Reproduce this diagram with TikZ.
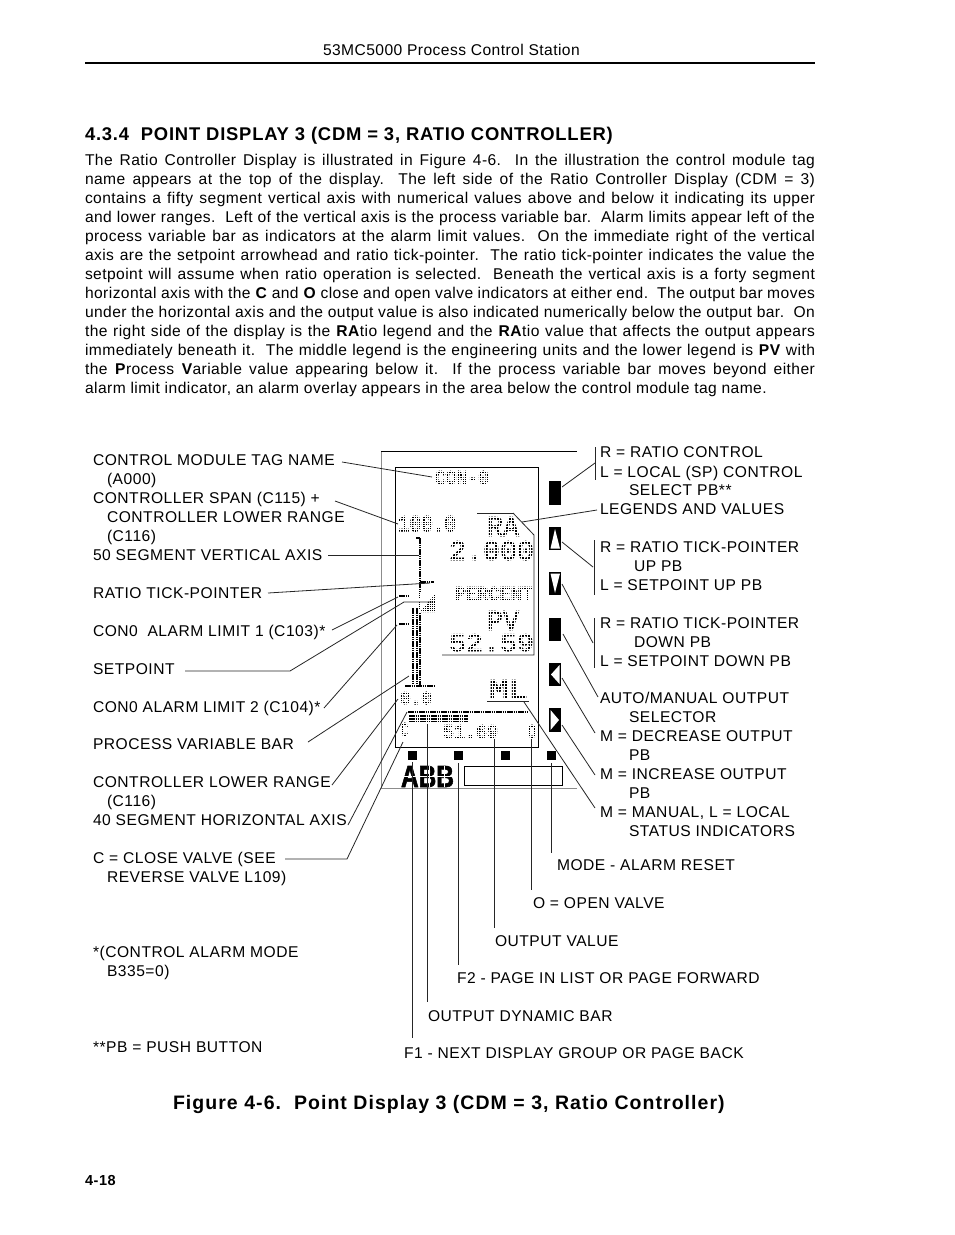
\documentclass[tikz,border=0pt]{standalone}
\usepackage{fontspec}
\usepackage{graphicx}
\setmainfont{Liberation Sans}
\newfontfamily\lcdf[FakeBold=2.2]{Liberation Mono}
\newfontfamily\lcdsf[FakeBold=6]{Liberation Mono}
\newfontfamily\abbf[FakeBold=2]{Liberation Sans Bold}
\newcommand{\tf}{\fontsize{15.6}{19}\selectfont\addfontfeature{LetterSpace=3.3}}
\newcommand{\bodyf}{\fontsize{15.6}{19}\selectfont\addfontfeature{LetterSpace=2.8}}
\tikzset{
 lbl/.style={anchor=base west,inner sep=0pt,outer sep=0pt,font=\tf},
 wire/.style={line width=0.8pt,black!85},
 lcdbox/.style={line width=1.1pt,black},
 dots/.style={line width=1.5pt,dash pattern=on 1.5pt off 0.7pt,black},
}
\newcommand{\lab}[4]{\node[lbl] (#1) at (#2,#3+5) {#4};}
\newcommand{\jl}[3]{\node[lbl,font=\bodyf] (#1) at (85,#2+5) {\makebox[730pt][s]{#3}};}
\newcommand{\wirep}[3]{\coordinate (#1a) at (#2); \coordinate (#1b) at (#3); \draw[wire] (#1a) -- (#1b);}
\newcommand{\lcdpitch}{2}
\newcommand{\lcdgap}{0.5}
\newcommand{\lcdfont}{\lcdsf}
\newcommand{\lcd}[6]{%
 \node[inner sep=0pt,outer sep=0pt,anchor=north west,font=\lcdfont,text=black] (#1) at (#2,#3)
  {\resizebox{\dimexpr#4pt-#2pt\relax}{\dimexpr#5pt-#3pt\relax}{#6}};
 \begin{scope}
 \clip (#2-1,#3-1) rectangle (#4+1,#5+1);
 \foreach \gi in {0,...,45} {
  \draw[white,line width=\lcdgap pt] (#2+.5+\gi*\lcdpitch,#3-1) -- (#2+.5+\gi*\lcdpitch,#5+1);
  \draw[white,line width=\lcdgap pt] (#2-1,#3+.5+\gi*\lcdpitch) -- (#4+1,#3+.5+\gi*\lcdpitch);
 }
 \end{scope}}
\begin{document}
\begin{tikzpicture}[x=1pt,y=-1pt]
\useasboundingbox[fill=white] (0,0) rectangle (954,1235);
% header
\node[lbl,font=\bodyf] (hdr) at (323,55) {53MC5000 Process Control Station};
\coordinate (ruleL) at (85,63); \coordinate (ruleR) at (815,63);
\draw[line width=2.4pt] (ruleL) -- (ruleR);
\node[lbl,font=\fontsize{18.4}{20}\selectfont\bfseries\addfontfeature{LetterSpace=4.3}] (sec) at (85,140) {4.3.4\ \ POINT DISPLAY 3 (CDM = 3, RATIO CONTROLLER)};
\jl{p1}{160}{The Ratio Controller Display is illustrated in Figure 4-6.\ \ In the illustration the control module tag}
\jl{p2}{179}{name appears at the top of the display.\ \ The left side of the Ratio Controller Display (CDM = 3)}
\jl{p3}{198}{contains a fifty segment vertical axis with numerical values above and below it indicating its upper}
\jl{p4}{217}{and lower ranges.\ \ Left of the vertical axis is the process variable bar.\ \ Alarm limits appear left of the}
\jl{p5}{236}{process variable bar as indicators at the alarm limit values.\ \ On the immediate right of the vertical}
\jl{p6}{255}{axis are the setpoint arrowhead and ratio tick-pointer.\ \ The ratio tick-pointer indicates the value the}
\jl{p7}{274}{setpoint will assume when ratio operation is selected.\ \ Beneath the vertical axis is a forty segment}
\jl{p8}{293}{horizontal axis with the \textbf{C} and \textbf{O} close and open valve indicators at either end.\ \ The output bar moves}
\jl{p9}{312}{under the horizontal axis and the output value is also indicated numerically below the output bar.\ \ On}
\jl{p10}{331}{the right side of the display is the \textbf{RA}tio legend and the \textbf{RA}tio value that affects the output appears}
\jl{p11}{350}{immediately beneath it.\ \ The middle legend is the engineering units and the lower legend is \textbf{PV} with}
\jl{p12}{369}{the \textbf{P}rocess \textbf{V}ariable value appearing below it.\ \ If the process variable bar moves beyond either}
\node[lbl,font=\bodyf] (p13) at (85,393) {alarm limit indicator, an alarm overlay appears in the area below the control module tag name.};
% left labels
\lab{a1}{93}{460}{CONTROL MODULE TAG NAME}
\lab{a2}{107}{479}{(A000)}
\lab{a3}{93}{498}{CONTROLLER SPAN (C115) +}
\lab{a4}{107}{517}{CONTROLLER LOWER RANGE}
\lab{a5}{107}{536}{(C116)}
\lab{a6}{93}{555}{50 SEGMENT VERTICAL AXIS}
\lab{a7}{93}{593}{RATIO TICK-POINTER}
\lab{a8}{93}{631}{CON0\ \ ALARM LIMIT 1 (C103)*}
\lab{a9}{93}{669}{SETPOINT}
\lab{a10}{93}{707}{CON0 ALARM LIMIT 2 (C104)*}
\lab{a11}{93}{744}{PROCESS VARIABLE BAR}
\lab{a12}{93}{782}{CONTROLLER LOWER RANGE}
\lab{a13}{107}{801}{(C116)}
\lab{a14}{93}{820}{40 SEGMENT HORIZONTAL AXIS}
\lab{a15}{93}{858}{C = CLOSE VALVE (SEE}
\lab{a16}{107}{877}{REVERSE VALVE L109)}
\lab{a17}{93}{952}{*(CONTROL ALARM MODE}
\lab{a18}{107}{971}{B335=0)}
\lab{a19}{93}{1047}{**PB = PUSH BUTTON}
% right labels
\lab{b1}{600}{452}{R = RATIO CONTROL}
\lab{b2}{600}{472}{L = LOCAL (SP) CONTROL}
\lab{b3}{629}{490}{SELECT PB**}
\lab{b4}{600}{509}{LEGENDS AND VALUES}
\lab{b5}{600}{547}{R = RATIO TICK-POINTER}
\lab{b6}{634}{566}{UP PB}
\lab{b7}{600}{585}{L = SETPOINT UP PB}
\lab{b8}{600}{623}{R = RATIO TICK-POINTER}
\lab{b9}{634}{642}{DOWN PB}
\lab{b10}{600}{661}{L = SETPOINT DOWN PB}
\lab{b11}{600}{698}{AUTO/MANUAL OUTPUT}
\lab{b12}{629}{717}{SELECTOR}
\lab{b13}{600}{736}{M = DECREASE OUTPUT}
\lab{b14}{629}{755}{PB}
\lab{b15}{600}{774}{M = INCREASE OUTPUT}
\lab{b16}{629}{793}{PB}
\lab{b17}{600}{812}{M = MANUAL, L = LOCAL}
\lab{b18}{629}{831}{STATUS INDICATORS}
% bottom labels
\lab{c1}{557}{865}{MODE - ALARM RESET}
\lab{c2}{533}{903}{O = OPEN VALVE}
\lab{c3}{495}{941}{OUTPUT VALUE}
\lab{c4}{457}{978}{F2 - PAGE IN LIST OR PAGE FORWARD}
\lab{c5}{428}{1016}{OUTPUT DYNAMIC BAR}
\lab{c6}{404}{1053}{F1 - NEXT DISPLAY GROUP OR PAGE BACK}
\node[lbl,font=\fontsize{19.5}{22}\selectfont\bfseries\addfontfeature{LetterSpace=5.4}] (cap) at (173,1109) {Figure 4-6.\ \ Point Display 3 (CDM = 3, Ratio Controller)};
\node[lbl,font=\fontsize{14.5}{16}\selectfont\bfseries\addfontfeature{LetterSpace=4}] (pg) at (85,1185) {4-18};
% frame
\coordinate (frTL) at (381,451); \coordinate (frTR) at (577,451);
\coordinate (frBL) at (381,788); \coordinate (frBR) at (577,788);
\draw[line width=0.9pt,black!45] (frTR) -- (frTL) -- (frBL) -- (frBR);
\draw[line width=0.9pt] (frTL) -- (frTR);
\node[draw,lcdbox,inner sep=0pt,minimum width=143pt,minimum height=280pt,anchor=north west] (screen) at (395,467) {};
% LCD texts: small dot matrix
\renewcommand{\lcdfont}{\lcdsf}\renewcommand{\lcdpitch}{2.2}\renewcommand{\lcdgap}{0.5}
\lcd{t1}{435}{471}{489}{484}{CON-0}
\lcd{t2}{398}{516}{456}{531}{100.0}
\lcd{t5}{455}{587}{533}{600}{PERCENT}
\lcd{t9}{400}{692}{432}{704}{0.0}
\lcd{t10}{401}{723}{408}{736}{C}
\lcd{t11}{443}{725}{498}{738}{51.69}
\lcd{t12}{528}{725}{536}{738}{O}
% LCD texts: large dot matrix
\renewcommand{\lcdfont}{\lcdf}\renewcommand{\lcdpitch}{3}\renewcommand{\lcdgap}{1}
\lcd{t3}{487}{517}{519}{536}{RA}
\lcd{t4}{449}{541}{534}{560}{2.000}
\lcd{t6}{487}{611}{519}{630}{PV}
\lcd{t7}{449}{634}{534}{651}{52.59}
\lcd{t8}{489}{680}{528}{698}{ML}
% LCD bars
\coordinate (vT) at (420,538); \coordinate (vB) at (420,686);
\coordinate (vL) at (405,686); \coordinate (vR) at (434,686);
\draw[dots] (vT) -- (vB); \draw[dots] (vL) -- (vR);
\coordinate (vTk) at (416,538); \draw[dots] (vTk) -- (vT);
\coordinate (tickR) at (434,582); \coordinate (tickL) at (420,582); \draw[dots] (tickL) -- (tickR);
\coordinate (al1a) at (399,596); \coordinate (al1b) at (408,596); \draw[dots] (al1a) -- (al1b);
\coordinate (al2a) at (399,624); \coordinate (al2b) at (408,624); \draw[dots] (al2a) -- (al2b);
\coordinate (pv1a) at (413,608); \coordinate (pv1b) at (413,684); \draw[dots] (pv1a) -- (pv1b);
\coordinate (pv2a) at (417,608); \coordinate (pv2b) at (417,684); \draw[dots] (pv2a) -- (pv2b);
\coordinate (sp1) at (420,612); \coordinate (sp2) at (435,612); \coordinate (sp3) at (435,594);
\fill[black] (sp1) -- (sp2) -- (sp3) -- cycle;
\foreach \k in {0,...,8} {\draw[white,line width=.55pt] (420+\k*2.2,593) -- (420+\k*2.2,613);\draw[white,line width=.55pt] (419,594+\k*2.2) -- (436,594+\k*2.2);}
\coordinate (hA) at (408,712); \coordinate (hB) at (527,712); \draw[dots] (hA) -- (hB);
\coordinate (hbar1a) at (409,716); \coordinate (hbar1b) at (468,716); \draw[dots] (hbar1a) -- (hbar1b);
\coordinate (hbar2a) at (409,719); \coordinate (hbar2b) at (468,719); \draw[dots] (hbar2a) -- (hbar2b);
\coordinate (hbar3a) at (409,721.5); \coordinate (hbar3b) at (468,721.5); \draw[dots] (hbar3a) -- (hbar3b);
% lines on the LCD
\wirep{la}{477,513}{513,513}
\coordinate (lc) at (534,535); \coordinate (ld) at (534,655); \coordinate (le) at (442,655);
\draw[wire] (lab) -- (lc) -- (ld) -- (le);
\wirep{ml}{487,701}{529,701}
% buttons
\tikzset{btn/.style={fill=black,inner sep=0pt,minimum width=12pt,anchor=north west}}
\node[btn,minimum height=24pt] (B1) at (549,481) {};
\node[btn,minimum height=23pt] (B2) at (549,527) {};
\node[btn,minimum height=23pt] (B3) at (549,572) {};
\node[btn,minimum height=23pt] (B4) at (549,618) {};
\node[btn,minimum height=23pt] (B5) at (549,663) {};
\node[btn,minimum height=24pt] (B6) at (549,708) {};
\fill[white] (555,529) -- (560,548.5) -- (550.5,548.5) -- cycle;
\fill[white] (555,593) -- (560,573.5) -- (550.5,573.5) -- cycle;
\fill[white] (551,674.5) -- (559.5,665) -- (559.5,684) -- cycle;
\fill[white] (559,720) -- (550.5,710) -- (550.5,730) -- cycle;
\tikzset{sqb/.style={fill=black,inner sep=0pt,minimum size=9pt,anchor=north west}}
\node[sqb] (S1) at (408,751) {};
\node[sqb] (S2) at (454,751) {};
\node[sqb] (S3) at (501,751) {};
\node[sqb] (S4) at (547,751) {};
% logo
\node[inner sep=0pt,outer sep=0pt,anchor=north west,font=\abbf] (abb) at (401,766) {\resizebox{53pt}{21pt}{ABB}};
\coordinate (abbA) at (401,776.5); \coordinate (abbB) at (455,776.5);
\draw[white,line width=.5pt] (abbA) -- (abbB);
\coordinate (abbC) at (429,766); \coordinate (abbD) at (429,787);
\draw[white,line width=.5pt] (abbC) -- (abbD);
\coordinate (abbE) at (444,766); \coordinate (abbF) at (444,787);
\draw[white,line width=.5pt] (abbE) -- (abbF);
\node[draw=black,line width=.9pt,inner sep=0pt,minimum width=98pt,minimum height=19pt,anchor=north west] (win) at (464,766) {};
% connectors left
\wirep{w1}{342,462}{432,477}
\wirep{w2}{335,501}{398,524}
\wirep{w3}{328,555}{419,555}
\wirep{w4}{268,593}{430,583}
\wirep{w5}{332,630}{398,597}
\coordinate (w6a) at (185,671); \coordinate (w6b) at (290,671); \coordinate (w6c) at (404,602); \coordinate (w6d) at (433,602);
\draw[wire] (w6a) -- (w6b) -- (w6c) -- (w6d);
\wirep{w7}{324,708}{397,625}
\wirep{w8}{308,742}{409,676}
\wirep{w9}{332,785}{398,699}
\wirep{w10}{348,825}{407,712}
\coordinate (w11a) at (285,859); \coordinate (w11b) at (347,859); \coordinate (w11c) at (403,742);
\draw[wire] (w11a) -- (w11b) -- (w11c);
% connectors right
\wirep{r1}{595,447}{595,480}
\wirep{r2}{595,463}{562,487}
\wirep{r3}{597,510}{522,522}
\wirep{r4}{594,540}{594,595}
\wirep{r5}{593,567}{562,542}
\wirep{r6}{594,618}{594,668}
\wirep{r7}{593,643}{562,584}
\wirep{r8}{598,697}{563,634}
\wirep{r9}{595,733}{562,678}
\wirep{r10}{595,775}{562,725}
\wirep{r11}{595,808}{524,702}
% bottom verticals
\wirep{v1}{412,762}{412,1038}
\wirep{v2}{427,724}{427,1002}
\wirep{v3}{458,763}{458,965}
\wirep{v4}{494,739}{494,928}
\wirep{v5}{531,739}{531,890}
\wirep{v6}{551,763}{551,853}
\end{tikzpicture}
\end{document}
